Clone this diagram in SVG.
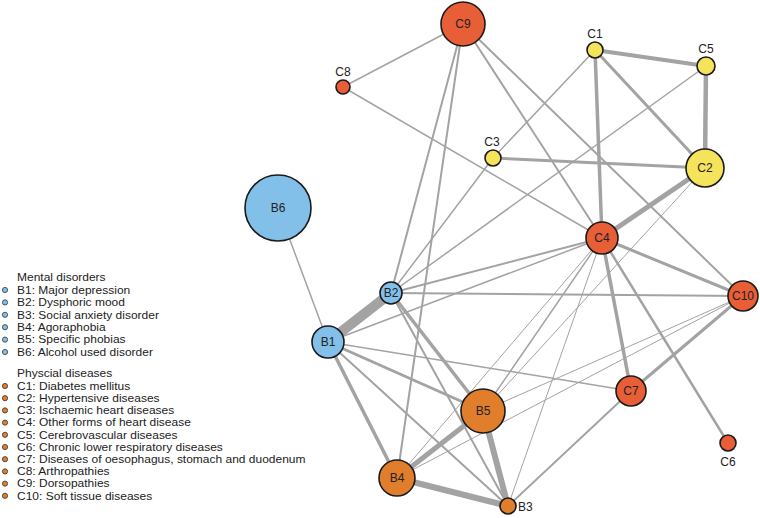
<svg xmlns="http://www.w3.org/2000/svg" width="760" height="518" viewBox="0 0 760 518">
<style>
.e{stroke:#a3a3a3;stroke-linecap:round;fill:none}
.n{stroke:#1a1a1a;stroke-width:1.6}
.b{fill:#82c0ea}.y{fill:#f6e35c}.r{fill:#e85e36}.o{fill:#e07e2c}
.t{font-family:"Liberation Sans",Arial,sans-serif;font-size:12px;fill:#222}
.l{font-family:"Liberation Sans",Arial,sans-serif;font-size:10.7px;fill:#222}
.m{text-anchor:middle}
.d{stroke:#333;stroke-width:0.8}
</style>
<rect width="760" height="518" fill="#fff"/>
<g id="connectors">
<line class="e" x1="328" y1="342" x2="391" y2="293" stroke-width="10"/>
<line class="e" x1="328" y1="342" x2="278" y2="208" stroke-width="1.5"/>
<line class="e" x1="328" y1="342" x2="602" y2="238" stroke-width="1.5"/>
<line class="e" x1="328" y1="342" x2="631" y2="391" stroke-width="1.5"/>
<line class="e" x1="328" y1="342" x2="483" y2="411" stroke-width="3"/>
<line class="e" x1="328" y1="342" x2="508" y2="506" stroke-width="2"/>
<line class="e" x1="328" y1="342" x2="397" y2="478" stroke-width="3.5"/>
<line class="e" x1="391" y1="293" x2="463" y2="24" stroke-width="2"/>
<line class="e" x1="391" y1="293" x2="493" y2="158" stroke-width="1.5"/>
<line class="e" x1="391" y1="293" x2="706" y2="66" stroke-width="1.5"/>
<line class="e" x1="391" y1="293" x2="602" y2="238" stroke-width="2"/>
<line class="e" x1="391" y1="293" x2="743" y2="296" stroke-width="2"/>
<line class="e" x1="391" y1="293" x2="483" y2="411" stroke-width="3.5"/>
<line class="e" x1="391" y1="293" x2="508" y2="506" stroke-width="2"/>
<line class="e" x1="463" y1="24" x2="343" y2="87" stroke-width="1.5"/>
<line class="e" x1="463" y1="24" x2="397" y2="478" stroke-width="2"/>
<line class="e" x1="463" y1="24" x2="602" y2="238" stroke-width="2"/>
<line class="e" x1="463" y1="24" x2="743" y2="296" stroke-width="2"/>
<line class="e" x1="343" y1="87" x2="602" y2="238" stroke-width="1.5"/>
<line class="e" x1="493" y1="158" x2="595" y2="50" stroke-width="1.5"/>
<line class="e" x1="493" y1="158" x2="705" y2="168" stroke-width="3"/>
<line class="e" x1="595" y1="50" x2="706" y2="66" stroke-width="4"/>
<line class="e" x1="595" y1="50" x2="602" y2="238" stroke-width="3.5"/>
<line class="e" x1="595" y1="50" x2="705" y2="168" stroke-width="3"/>
<line class="e" x1="706" y1="66" x2="705" y2="168" stroke-width="4.5"/>
<line class="e" x1="705" y1="168" x2="602" y2="238" stroke-width="5"/>
<line class="e" x1="705" y1="168" x2="483" y2="411" stroke-width="1"/>
<line class="e" x1="602" y1="238" x2="743" y2="296" stroke-width="3"/>
<line class="e" x1="602" y1="238" x2="631" y2="391" stroke-width="3.5"/>
<line class="e" x1="602" y1="238" x2="728" y2="443" stroke-width="2.5"/>
<line class="e" x1="602" y1="238" x2="483" y2="411" stroke-width="1.5"/>
<line class="e" x1="602" y1="238" x2="397" y2="478" stroke-width="1"/>
<line class="e" x1="602" y1="238" x2="508" y2="506" stroke-width="1"/>
<line class="e" x1="743" y1="296" x2="631" y2="391" stroke-width="3"/>
<line class="e" x1="743" y1="296" x2="483" y2="411" stroke-width="1"/>
<line class="e" x1="743" y1="296" x2="397" y2="478" stroke-width="1"/>
<line class="e" x1="631" y1="391" x2="508" y2="506" stroke-width="2"/>
<line class="e" x1="483" y1="411" x2="397" y2="478" stroke-width="5"/>
<line class="e" x1="483" y1="411" x2="508" y2="506" stroke-width="6"/>
<line class="e" x1="397" y1="478" x2="508" y2="506" stroke-width="6"/>
</g>
<g id="B6"><circle class="n b" cx="278" cy="208" r="33"/><text class="t m" x="278" y="212">B6</text></g>
<g id="B1"><circle class="n b" cx="328" cy="342" r="16"/><text class="t m" x="328" y="346">B1</text></g>
<g id="B2"><circle class="n b" cx="391" cy="293" r="11"/><text class="t m" x="391" y="297">B2</text></g>
<g id="B5"><circle class="n o" cx="483" cy="411" r="22"/><text class="t m" x="483" y="415">B5</text></g>
<g id="B4"><circle class="n o" cx="397" cy="478" r="18"/><text class="t m" x="397" y="482">B4</text></g>
<g id="B3"><circle class="n o" cx="508" cy="506" r="8"/><text class="t" x="518" y="511">B3</text></g>
<g id="C9"><circle class="n r" cx="463" cy="24" r="22"/><text class="t m" x="463" y="28">C9</text></g>
<g id="C8"><circle class="n r" cx="343" cy="87" r="7"/><text class="t m" x="343" y="76">C8</text></g>
<g id="C3"><circle class="n y" cx="493" cy="158" r="8"/><text class="t m" x="492" y="146">C3</text></g>
<g id="C1"><circle class="n y" cx="595" cy="50" r="8"/><text class="t m" x="595" y="38">C1</text></g>
<g id="C5"><circle class="n y" cx="706" cy="66" r="9"/><text class="t m" x="706" y="53">C5</text></g>
<g id="C2"><circle class="n y" cx="705" cy="168" r="19"/><text class="t m" x="705" y="172">C2</text></g>
<g id="C4"><circle class="n r" cx="602" cy="238" r="16"/><text class="t m" x="602" y="242">C4</text></g>
<g id="C10"><circle class="n r" cx="743" cy="296" r="15"/><text class="t m" x="743" y="300">C10</text></g>
<g id="C7"><circle class="n r" cx="631" cy="391" r="15"/><text class="t m" x="631" y="395">C7</text></g>
<g id="C6"><circle class="n r" cx="728" cy="443" r="8"/><text class="t m" x="728" y="466">C6</text></g>
<g id="legend">
<circle class="d b" cx="5" cy="290" r="2.6"/>
<circle class="d b" cx="5" cy="302.4" r="2.6"/>
<circle class="d b" cx="5" cy="314.8" r="2.6"/>
<circle class="d b" cx="5" cy="327.2" r="2.6"/>
<circle class="d b" cx="5" cy="339.6" r="2.6"/>
<circle class="d b" cx="5" cy="352" r="2.6"/>
<circle class="d o" cx="5" cy="386" r="2.6"/>
<circle class="d o" cx="5" cy="398.2" r="2.6"/>
<circle class="d o" cx="5" cy="410.4" r="2.6"/>
<circle class="d o" cx="5" cy="422.6" r="2.6"/>
<circle class="d o" cx="5" cy="434.8" r="2.6"/>
<circle class="d o" cx="5" cy="447" r="2.6"/>
<circle class="d o" cx="5" cy="459.2" r="2.6"/>
<circle class="d o" cx="5" cy="471.4" r="2.6"/>
<circle class="d o" cx="5" cy="483.6" r="2.6"/>
<circle class="d o" cx="5" cy="495.8" r="2.6"/>
<g transform="scale(1.12,1)">
<text class="l" x="15.2" y="281.5">Mental disorders</text>
<text class="l" x="15.2" y="293.8">B1: Major depression</text>
<text class="l" x="15.2" y="306.2">B2: Dysphoric mood</text>
<text class="l" x="15.2" y="318.6">B3: Social anxiety disorder</text>
<text class="l" x="15.2" y="331">B4: Agoraphobia</text>
<text class="l" x="15.2" y="343.4">B5: Specific phobias</text>
<text class="l" x="15.2" y="355.8">B6: Alcohol used disorder</text>
<text class="l" x="15.2" y="377">Physcial diseases</text>
<text class="l" x="15.2" y="389.8">C1: Diabetes mellitus</text>
<text class="l" x="15.2" y="402">C2: Hypertensive diseases</text>
<text class="l" x="15.2" y="414.2">C3: Ischaemic heart diseases</text>
<text class="l" x="15.2" y="426.4">C4: Other forms of heart disease</text>
<text class="l" x="15.2" y="438.6">C5: Cerebrovascular diseases</text>
<text class="l" x="15.2" y="450.8">C6: Chronic lower respiratory diseases</text>
<text class="l" x="15.2" y="463">C7: Diseases of oesophagus, stomach and duodenum</text>
<text class="l" x="15.2" y="475.2">C8: Arthropathies</text>
<text class="l" x="15.2" y="487.4">C9: Dorsopathies</text>
<text class="l" x="15.2" y="499.6">C10: Soft tissue diseases</text>
</g>
</g>
</svg>
